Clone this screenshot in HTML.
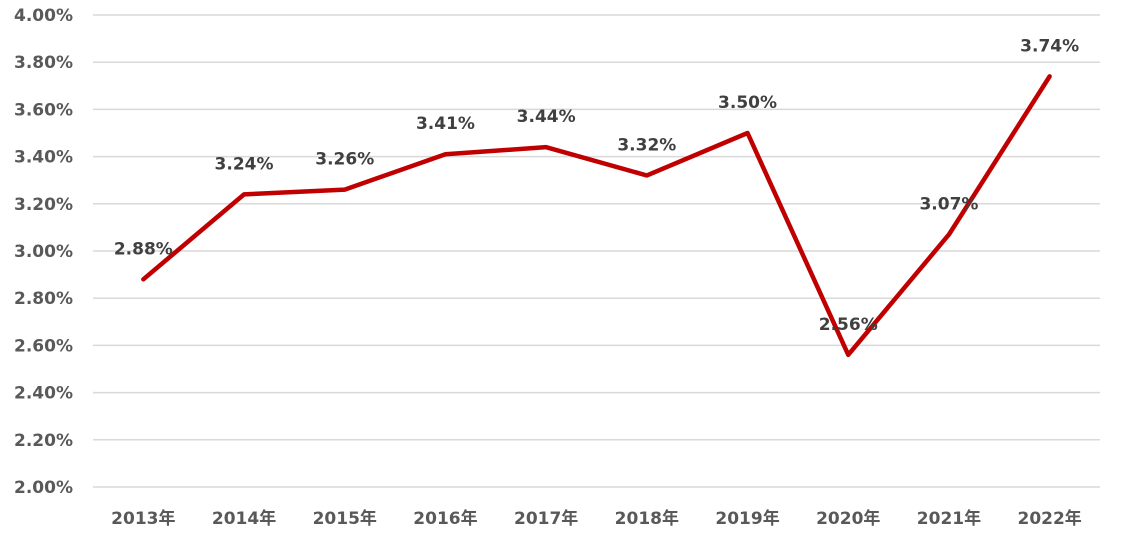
<!DOCTYPE html>
<html><head><meta charset="utf-8"><style>
html,body{margin:0;padding:0;background:#fff;}
svg text{font-family:"DejaVu Sans","Noto Sans CJK JP",sans-serif;font-weight:bold;fill:#595959;}
</style></head><body>
<svg id="chart" width="1129" height="542" xmlns="http://www.w3.org/2000/svg">
<g id="grid"></g>
<g id="yaxis"></g>
<g id="xaxis"></g>
<g id="series"></g>
</svg>
<script>
const categories=["2013年","2014年","2015年","2016年","2017年","2018年","2019年","2020年","2021年","2022年"];
const values=[2.88,3.24,3.26,3.41,3.44,3.32,3.50,2.56,3.07,3.74];
const valueLabels=["2.88%","3.24%","3.26%","3.41%","3.44%","3.32%","3.50%","2.56%","3.07%","3.74%"];
const yTicks=[2.0,2.2,2.4,2.6,2.8,3.0,3.2,3.4,3.6,3.8,4.0];
const yTickLabels=["2.00%","2.20%","2.40%","2.60%","2.80%","3.00%","3.20%","3.40%","3.60%","3.80%","4.00%"];
const NS="http://www.w3.org/2000/svg";
const L=93,R=1100,T=15,B=487,yMin=2.0,yMax=4.0;
const y=v=>B-(v-yMin)/(yMax-yMin)*(B-T);
const band=(R-L)/categories.length;
const x=i=>L+band*(i+0.5);
function mk(tag,attrs,parent){const e=document.createElementNS(NS,tag);for(const k in attrs)e.setAttribute(k,attrs[k]);parent.appendChild(e);return e;}
const grid=document.getElementById('grid'),ya=document.getElementById('yaxis'),xa=document.getElementById('xaxis'),se=document.getElementById('series');
yTicks.forEach((t,i)=>{
 const ln=mk('line',{x1:L,x2:R,y1:y(t),y2:y(t),stroke:'#d9d9d9','stroke-width':1.5},grid);
 
 
 const tx=mk('text',{x:73,y:y(t)+6,'text-anchor':'end','font-size':17},ya);
 tx.textContent=yTickLabels[i];
 
 
});
categories.forEach((c,i)=>{
 const tx=mk('text',{x:x(i),y:524,'text-anchor':'middle','font-size':17},xa);
 tx.textContent=c;
 
 
});
const pts=values.map((v,i)=>x(i)+','+y(v)).join(' ');
const pl=mk('polyline',{points:pts,fill:'none',stroke:'#C00000','stroke-width':4.5,'stroke-linejoin':'round','stroke-linecap':'round'},se);


values.forEach((v,i)=>{
 const tx=mk('text',{x:x(i),y:y(v)-25,'text-anchor':'middle','font-size':17,style:'fill:#404040'},se);
 tx.textContent=valueLabels[i];
 
 
});
</script>
</body></html>
